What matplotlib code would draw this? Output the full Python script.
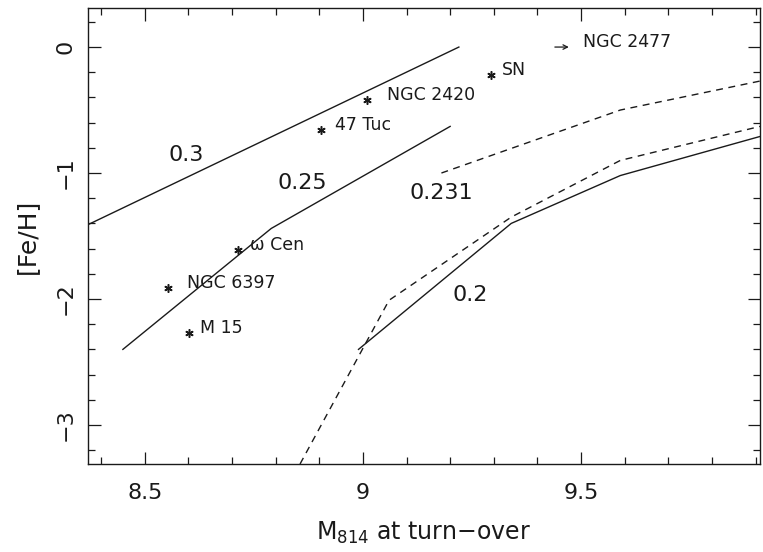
"""[Fe/H] versus M814 at turn-over with helium-abundance tracks."""

import matplotlib

matplotlib.use("Agg")
import matplotlib.pyplot as plt

INK = "#1a1a1a"

# model tracks, labelled by Y
Y_030_X = [8.37, 9.22]
Y_030_FEH = [-1.41, 0.00]
Y_025_X = [8.45, 8.79, 9.20]
Y_025_FEH = [-2.40, -1.44, -0.63]
Y_020_X = [8.99, 9.34, 9.59, 9.91]
Y_020_FEH = [-2.40, -1.40, -1.02, -0.71]
Y_0231_UP_X = [9.18, 9.59, 9.91]
Y_0231_UP_FEH = [-1.00, -0.50, -0.27]
Y_0231_LO_X = [8.856, 9.06, 9.34, 9.59, 9.91]
Y_0231_LO_FEH = [-3.31, -2.01, -1.35, -0.90, -0.63]

# observed clusters
CLUSTERS = ["NGC 2420", "47 Tuc", "SN", "ω Cen", "NGC 6397", "M 15"]
CLUSTER_M814 = [9.01, 8.904, 9.294, 8.713, 8.553, 8.601]
CLUSTER_FEH = [-0.42, -0.66, -0.22, -1.61, -1.91, -2.27]
LIMIT_NAME = "NGC 2477"
LIMIT_M814 = 9.44
LIMIT_FEH = 0.0

TRACK_LABELS = ["0.3", "0.25", "0.231", "0.2"]
TRACK_LABEL_X = [8.596, 8.862, 9.179, 9.245]
TRACK_LABEL_Y = [-0.86, -1.08, -1.16, -1.97]

# text offsets (points) for the cluster names
LABEL_DX = [14, 10, 8, 9, 14, 8]


def main():
    fig = plt.figure(figsize=(7.63, 5.52), dpi=100)
    ax = fig.add_axes([0.1153, 0.1594, 0.8807, 0.8261])

    lw = 1.0
    ax.plot(Y_030_X, Y_030_FEH, color=INK, lw=lw)
    ax.plot(Y_025_X, Y_025_FEH, color=INK, lw=lw)
    ax.plot(Y_020_X, Y_020_FEH, color=INK, lw=lw)
    ax.plot(Y_0231_UP_X, Y_0231_UP_FEH, color=INK, lw=lw, ls=(0, (5, 4)))
    ax.plot(Y_0231_LO_X, Y_0231_LO_FEH, color=INK, lw=lw, ls=(0, (5, 4)))

    ax.plot(
        CLUSTER_M814,
        CLUSTER_FEH,
        marker=(6, 2, 0),
        markersize=6,
        markeredgewidth=1.1,
        color=INK,
        linestyle="none",
    )
    for name, x, y, dx in zip(CLUSTERS, CLUSTER_M814, CLUSTER_FEH, LABEL_DX):
        ax.annotate(
            name,
            xy=(x, y),
            xytext=(dx, 3.5),
            textcoords="offset points",
            fontsize=12.5,
            color=INK,
            ha="left",
            va="center",
        )

    ax.annotate(
        "",
        xy=(LIMIT_M814 + 0.032, LIMIT_FEH),
        xytext=(LIMIT_M814, LIMIT_FEH),
        arrowprops=dict(arrowstyle="->", color=INK, lw=0.9,
                        shrinkA=0, shrinkB=0, mutation_scale=8),
    )
    ax.annotate(
        LIMIT_NAME,
        xy=(LIMIT_M814, LIMIT_FEH),
        xytext=(20, 3.5),
        textcoords="offset points",
        fontsize=12.5,
        color=INK,
        ha="left",
        va="center",
    )

    for lab, x, y in zip(TRACK_LABELS, TRACK_LABEL_X, TRACK_LABEL_Y):
        ax.text(x, y, lab, fontsize=16, color=INK, ha="center", va="center")

    ax.set_xlim(8.37, 9.91)
    ax.set_ylim(-3.31, 0.31)
    ax.set_xticks([8.5, 9.0, 9.5])
    ax.set_xticklabels(["8.5", "9", "9.5"])
    ax.set_xticks([x / 10 for x in range(84, 100)], minor=True)
    ax.set_yticks([0, -1, -2, -3])
    ax.set_yticklabels(["0", "\u22121", "\u22122", "\u22123"], rotation=90,
                       va="center")
    ax.set_yticks([y / 10 for y in range(-32, 4, 2)], minor=True)

    ax.tick_params(which="both", direction="in", top=True, right=True,
                   labelsize=16, colors=INK, width=0.9)
    ax.tick_params(which="major", length=9)
    ax.tick_params(which="minor", length=5)
    ax.tick_params(axis="x", which="major", pad=14)
    ax.tick_params(axis="y", which="major", pad=9)
    for side in ax.spines.values():
        side.set_color(INK)
        side.set_linewidth(1.0)

    ax.set_xlabel("M$_{814}$ at turn\u2212over", fontsize=17, color=INK,
                  labelpad=12)
    ax.set_ylabel("[Fe/H]", fontsize=18, color=INK, labelpad=12)

    fig.savefig("out.png", dpi=100, facecolor="white")
    plt.close(fig)


if __name__ == "__main__":
    main()
